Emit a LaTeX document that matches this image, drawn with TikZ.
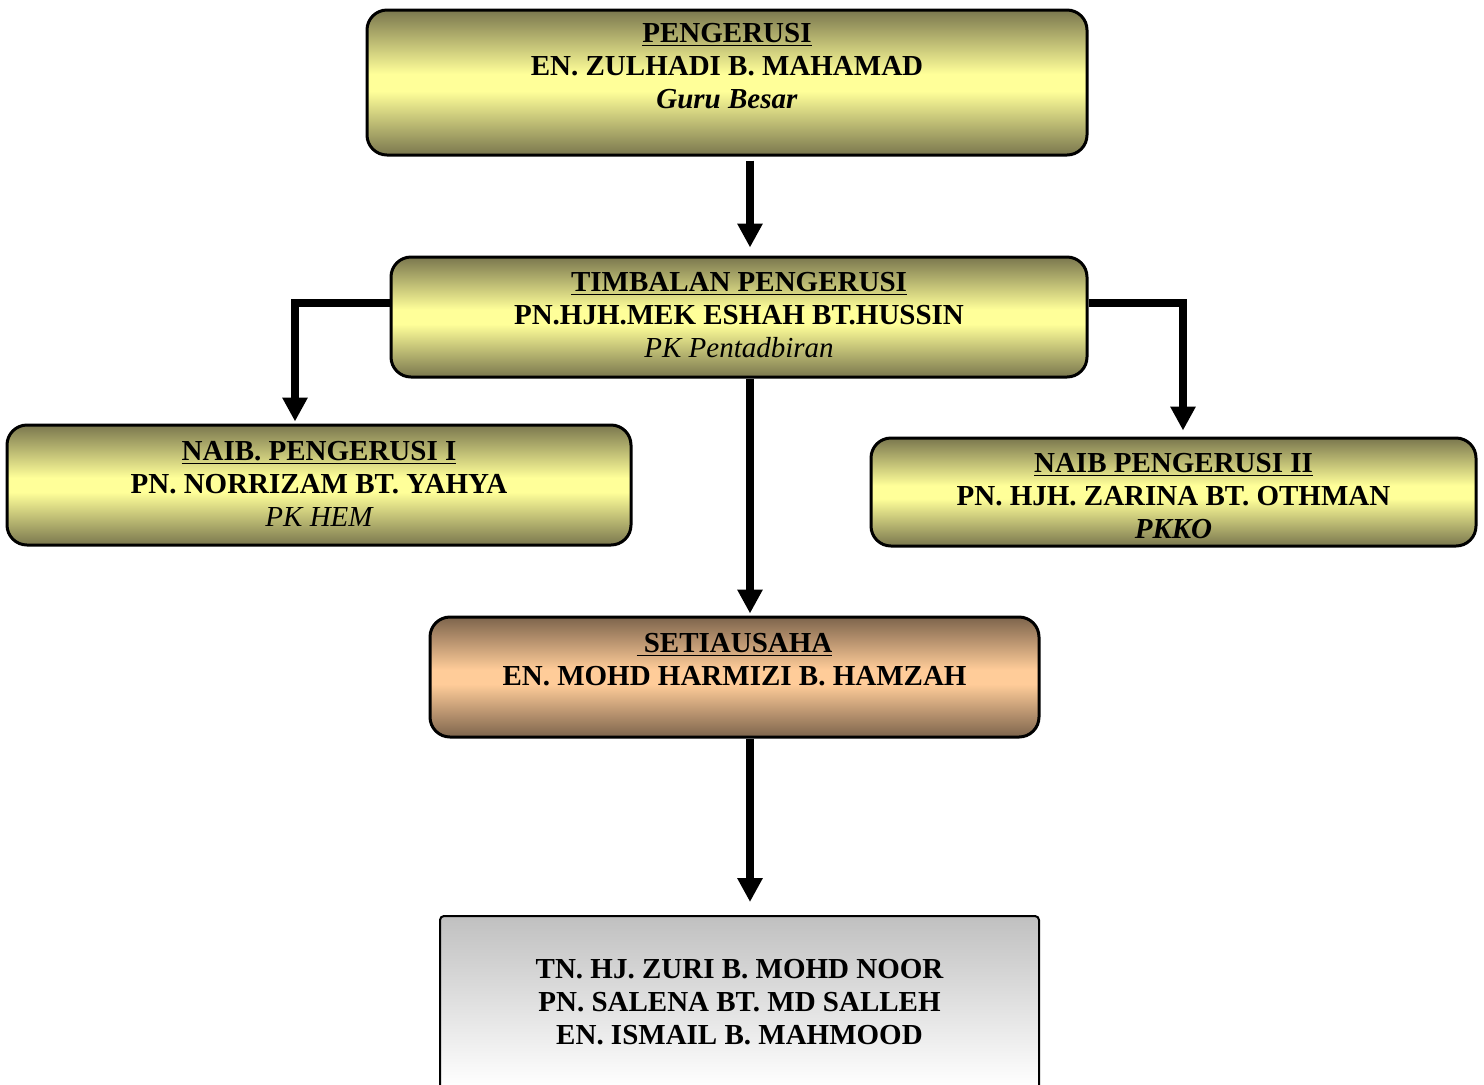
\documentclass[tikz,border=0pt]{standalone}
\usepackage{fontspec}
\setmainfont{Liberation Serif}
\usetikzlibrary{arrows.meta,calc}
\definecolor{olivedark}{RGB}{122,119,78}
\definecolor{olivelight}{RGB}{255,255,153}
\definecolor{browndark}{RGB}{125,100,76}
\definecolor{brownlight}{RGB}{255,204,153}
\definecolor{silverdark}{RGB}{192,192,192}
\pgfdeclareverticalshading{olive bar}{100bp}{color(0bp)=(olivedark); color(25bp)=(olivedark);
  color(47bp)=(olivelight); color(53bp)=(olivelight); color(75bp)=(olivedark); color(100bp)=(olivedark)}
\pgfdeclareverticalshading{brown bar}{100bp}{color(0bp)=(browndark); color(25bp)=(browndark);
  color(47bp)=(brownlight); color(53bp)=(brownlight); color(75bp)=(browndark); color(100bp)=(browndark)}
\pgfdeclareverticalshading{silver bar}{100bp}{color(0bp)=(white); color(31bp)=(white);
  color(75bp)=(silverdark); color(100bp)=(silverdark)}
\tikzset{
  org box/.style = {
    shape = rectangle,
    draw  = black,
    line width = 1.5pt,
    rounded corners = 10pt,
    shade, shading = #1,
    inner sep = 0pt},
  member box/.style = {
    shape = rectangle,
    draw  = black,
    line width = 1pt,
    rounded corners = 2pt,
    shade, shading = silver bar,
    inner sep = 0pt},
  name text/.style = {
    align = center,
    inner sep = 0pt,
    font = \bfseries\fontsize{14.5pt}{16.5pt}\selectfont},
  link/.style = {line width = 4pt, -{Triangle[width=12pt, length=12pt]}}
}
\begin{document}
\begin{tikzpicture}[x = 0.5pt, y = -0.5pt]
  \useasboundingbox (0,0) rectangle (1484,1084);
  \clip (0,0) rectangle (1484,1084);
  \coordinate (spine) at (750,0);
  % boxes
  \node[org box = olive bar, minimum width = 360pt, minimum height = 72.5pt] (pengerusi) at (727,82.5) {};
  \node[org box = olive bar, minimum width = 348pt, minimum height = 60pt] (timbalan) at (739,317) {};
  \node[org box = olive bar, minimum width = 312pt, minimum height = 60pt] (naib1) at (319,485) {};
  \node[org box = olive bar, minimum width = 302.5pt, minimum height = 54pt] (naib2) at (1173.5,492) {};
  \node[org box = brown bar, minimum width = 304.5pt, minimum height = 60pt] (setiausaha) at (734.5,677) {};
  \node[member box, minimum width = 299.5pt, minimum height = 97pt] (ahli) at (739.5,1013) {};
  % texts
  \node[name text] (pengerusi txt) at ([yshift=8.25pt]pengerusi.center)
    {\underline{PENGERUSI}\\ EN. ZULHADI B. MAHAMAD\\ \textit{Guru Besar}};
  \node[name text] (timbalan txt) at ([yshift=1pt]timbalan.center)
    {\underline{TIMBALAN PENGERUSI}\\ PN.HJH.MEK ESHAH BT.HUSSIN\\ {\mdseries\itshape PK Pentadbiran}};
  \node[name text] (naib1 txt) at ([yshift=0.5pt]naib1.center)
    {\underline{NAIB. PENGERUSI I}\\ PN. NORRIZAM BT. YAHYA\\ {\mdseries\itshape PK HEM}};
  \node[name text] (naib2 txt) at ([yshift=-2pt]naib2.center)
    {\underline{NAIB PENGERUSI II}\\ PN. HJH. ZARINA BT. OTHMAN\\ \textit{PKKO}};
  \node[name text] (setiausaha txt) at ([yshift=8.75pt]setiausaha.center)
    {\underline{~SETIAUSAHA}\\ EN. MOHD HARMIZI B. HAMZAH};
  \node[name text] (ahli txt) at ([yshift=5.25pt]ahli.center)
    {TN. HJ. ZURI B. MOHD NOOR\\ PN. SALENA BT. MD SALLEH\\ EN. ISMAIL B. MAHMOOD};
  % links
  \draw[link, shorten <= 2pt, shorten >= 4pt] (pengerusi.south -| spine) -- (timbalan.north -| spine);
  \draw[link, shorten >= 1pt] (timbalan.south -| spine) -- (setiausaha.north -| spine);
  \draw[link, shorten >= 6.5pt] (setiausaha.south -| spine) -- (ahli.north -| spine);
  \draw[link, shorten >= 1pt] ([yshift=7pt]timbalan.west) -| ([xshift=-12pt]naib1.north);
  \draw[link, shorten >= 3pt] ([yshift=7pt]timbalan.east) -| ([xshift=4.75pt]naib2.north);
\end{tikzpicture}
\end{document}
